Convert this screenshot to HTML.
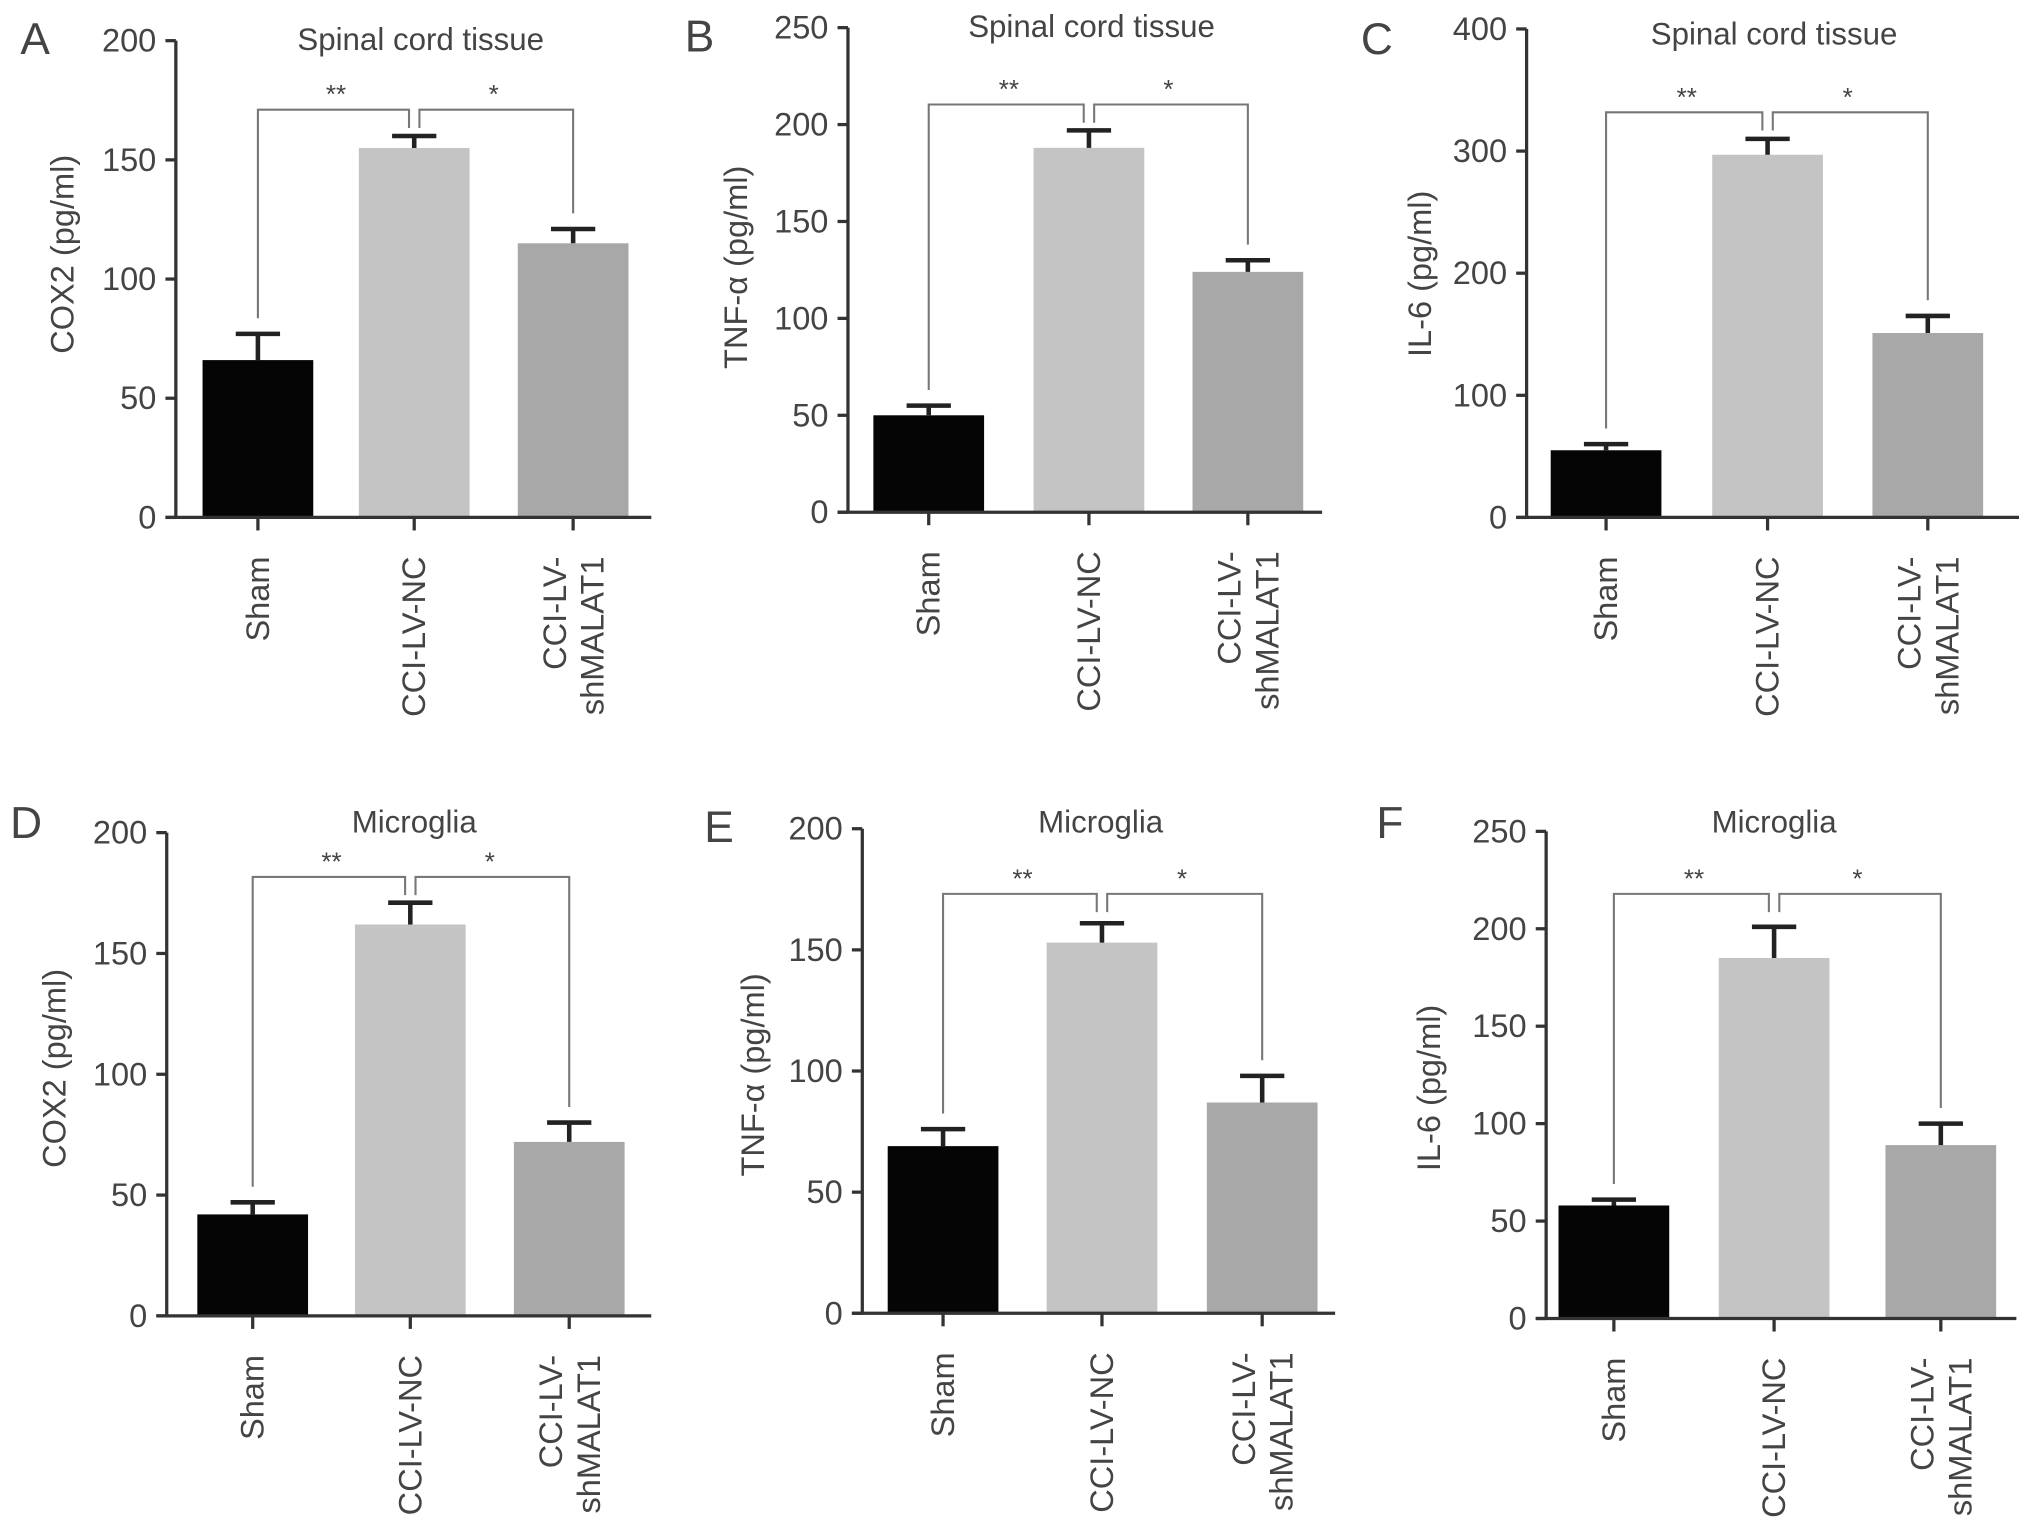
<!DOCTYPE html>
<html><head><meta charset="utf-8"><style>
html,body{margin:0;padding:0;background:#fff}
svg{display:block}
text{font-family:"Liberation Sans",Arial,sans-serif;fill:#444}
</style></head><body>
<svg id="fig" width="2032" height="1522" viewBox="0 0 1560 1168" xmlns="http://www.w3.org/2000/svg"></svg>
<script>
const categories = ["Sham", "CCI-LV-NC", "CCI-LV-shMALAT1"];
const titles = ["Spinal cord tissue","Spinal cord tissue","Spinal cord tissue","Microglia","Microglia","Microglia"];
const letters = ["A","B","C","D","E","F"];
const yTitles = ["COX2 (pg/ml)","TNF-\u03b1 (pg/ml)","IL-6 (pg/ml)","COX2 (pg/ml)","TNF-\u03b1 (pg/ml)","IL-6 (pg/ml)"];
const yMaxes = [200, 250, 400, 200, 200, 250];
const yTickSteps = [50, 50, 100, 50, 50, 50];
const meansA = [66, 155, 115];  const errA = [77, 160, 121];
const meansB = [50, 188, 124];  const errB = [55, 197, 130];
const meansC = [55, 297, 151];  const errC = [60, 310, 165];
const meansD = [42, 162, 72];   const errD = [47, 171, 80];
const meansE = [69, 153, 87];   const errE = [76, 161, 98];
const meansF = [58, 185, 89];   const errF = [61, 201, 100];
const allMeans = [meansA, meansB, meansC, meansD, meansE, meansF];
const allErrs = [errA, errB, errC, errD, errE, errF];

const layout = [
 {ax:135, top:31, zero:397, xEnd:500, cx:[198,318,440], letter:[27,30], title:[323,30], yt:[48,195], br:84},
 {ax:651, top:21, zero:393, xEnd:1015, cx:[713,836,958], letter:[537,28], title:[838,20], yt:[565,205], br:80},
 {ax:1172, top:22, zero:397, xEnd:1550, cx:[1233,1357,1480], letter:[1057,30], title:[1362,26], yt:[1090,210], br:86},
 {ax:128, top:639, zero:1010, xEnd:500, cx:[194,315,437], letter:[20,632], title:[318,631], yt:[42,820], br:673},
 {ax:662, top:636, zero:1008, xEnd:1025, cx:[724,846,969], letter:[552,635], title:[845,631], yt:[578,825], br:686},
 {ax:1187, top:638, zero:1012, xEnd:1548, cx:[1239,1362,1490], letter:[1067,632], title:[1362,631], yt:[1097,835], br:686}
];
const barColors = ["#050505","#c4c4c4","#a8a8a8"];
const NS = "http://www.w3.org/2000/svg";
const svg = document.getElementById("fig");
function mk(tag, attrs, parent){const e=document.createElementNS(NS,tag);for(const k in attrs)e.setAttribute(k,attrs[k]);(parent||svg).appendChild(e);return e;}

for(let p=0;p<6;p++){
  const L=layout[p], max=yMaxes[p];
  const y = v => L.zero - (v/max)*(L.zero-L.top);
  const g = mk("g",{});
  
  
  const lt = mk("text",{x:L.letter[0],y:L.letter[1],"font-size":34,"text-anchor":"middle","dominant-baseline":"central"},g);
  lt.textContent=letters[p];
  
  
  const tt = mk("text",{x:L.title[0],y:L.title[1],"font-size":24,"text-anchor":"middle","dominant-baseline":"central"},g);
  tt.textContent=titles[p];
  
  
  const yt = mk("text",{x:0,y:0,"font-size":25,"text-anchor":"middle","dominant-baseline":"central",transform:`translate(${L.yt[0]},${L.yt[1]}) rotate(-90)`},g);
  yt.textContent=yTitles[p];
  
  
  const bw = 85;
  for(let i=0;i<3;i++){
    const v=allMeans[p][i], e=allErrs[p][i], cx=L.cx[i];
    const r = mk("rect",{x:cx-bw/2,y:y(v),width:bw,height:L.zero-y(v),fill:barColors[i]},g);
    
    
    const el = mk("path",{d:`M${cx},${y(v)}V${y(e)}M${cx-17},${y(e)}H${cx+17}`,stroke:"#222","stroke-width":3.5,fill:"none"},g);
    
    
  }
  const axis = mk("path",{d:`M${L.ax},${L.top}V${L.zero}M${L.ax-8},${L.zero}H${L.xEnd}`,stroke:"#333","stroke-width":2.5,fill:"none"},g);
  
  
  for(let v=0; v<=max; v+=yTickSteps[p]){
    const tk = mk("line",{x1:L.ax-8,x2:L.ax,y1:y(v),y2:y(v),stroke:"#333","stroke-width":2.5},g);
    
    
    const tl = mk("text",{x:L.ax-15,y:y(v),"font-size":25,"text-anchor":"end","dominant-baseline":"central"},g);
    tl.textContent=v;
    
    
  }
  for(let i=0;i<3;i++){
    const cx=L.cx[i];
    const tk = mk("line",{x1:cx,x2:cx,y1:L.zero,y2:L.zero+10,stroke:"#333","stroke-width":2.5},g);
    
    
    const ty = L.zero+30;
    if(i<2){
      const t = mk("text",{x:0,y:0,"font-size":25,"text-anchor":"end","dominant-baseline":"central",transform:`translate(${cx},${ty}) rotate(-90)`},g);
      t.textContent=categories[i];
      
      
    } else {
      const parts=["CCI-LV-","shMALAT1"];
      for(let k=0;k<2;k++){
        const t = mk("text",{x:0,y:0,"font-size":25,"text-anchor":"end","dominant-baseline":"central",transform:`translate(${cx-14+k*29},${ty}) rotate(-90)`},g);
        t.textContent=parts[k];
        
        
      }
    }
  }
  const c=L.cx, br=L.br, e=allErrs[p];
  const b = mk("path",{d:`M${c[0]},${y(e[0])-12}V${br}H${c[1]-4}V${br+14}M${c[1]+4},${br+14}V${br}H${c[2]}V${y(e[2])-12}`,stroke:"#777","stroke-width":1.6,fill:"none"},g);
  
  
  const s1 = mk("text",{x:(c[0]+c[1])/2,y:br-5,"font-size":20,"text-anchor":"middle"},g);
  s1.textContent="**";
  
  
  const s2 = mk("text",{x:(c[1]+c[2])/2,y:br-5,"font-size":20,"text-anchor":"middle"},g);
  s2.textContent="*";
  
  
}
</script>
</body></html>
